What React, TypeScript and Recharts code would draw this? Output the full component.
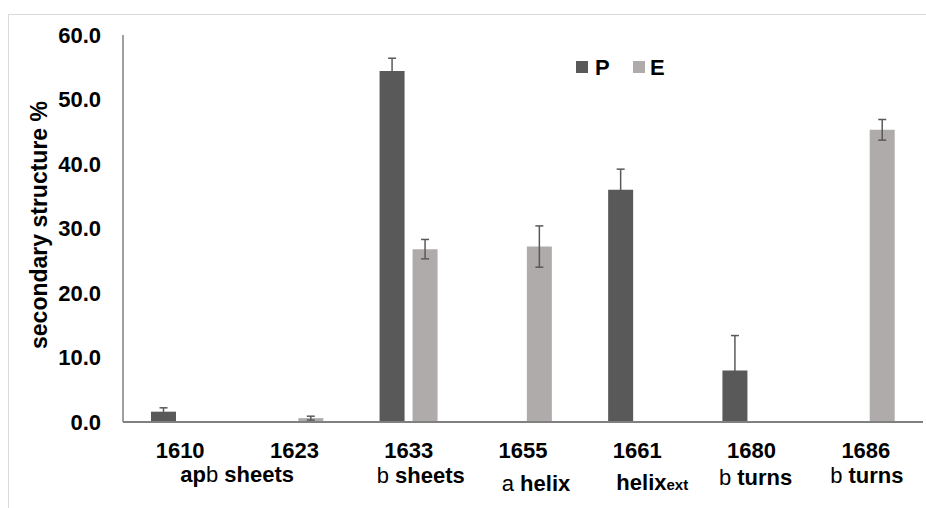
import React from 'react';
import { BarChart, Bar, XAxis, YAxis, ErrorBar } from 'recharts';

// ---- data ----
const categories = ['1610', '1623', '1633', '1655', '1661', '1680', '1686'];
const pValues = [1.6, null, 54.4, null, 36.0, 8.0, null];
const pErrors = [0.6, null, 2.0, null, 3.2, 5.4, null];
const eValues = [null, 0.6, 26.8, 27.2, null, null, 45.3];
const eErrors = [null, 0.3, 1.5, 3.2, null, null, 1.6];
const yTicks = [0, 10, 20, 30, 40, 50, 60];
// second-line labels: segments of [text, weight, subscript]
const structureLabels: Array<Array<[string, 'bold' | 'normal', boolean]>> = [
  [['ap', 'bold', false], ['b', 'normal', false], [' sheets', 'bold', false]],
  [],
  [['b', 'normal', false], [' sheets', 'bold', false]],
  [['a', 'normal', false], [' helix', 'bold', false]],
  [['helix', 'bold', false], ['ext', 'bold', true]],
  [['b', 'normal', false], [' turns', 'bold', false]],
  [['b', 'normal', false], [' turns', 'bold', false]],
];
const seriesNames = ['P', 'E'];

// ---- layout / style ----
const COLOR_P = '#595959';
const COLOR_E = '#AFABAB';
const FONT = '"Liberation Sans", Arial, sans-serif';
const labelShiftX = [57, 0, 12, 13, 15, 4, 1];
const labelBaseline = [60, 0, 61, 69, 68, 63, 61];

const data = categories.map((c, i) => ({
  cat: c,
  P: pValues[i],
  Perr: pErrors[i],
  E: eValues[i],
  Eerr: eErrors[i],
}));

const XTick = (props: any) => {
  const { x, y, payload, index } = props;
  const idx = typeof index === 'number' ? index : categories.indexOf(payload.value);
  const segs = structureLabels[idx] || [];
  return (
    <g>
      <text x={x} y={y + 36} textAnchor="middle" fontFamily={FONT} fontSize={22} fontWeight="bold" fill="#000">
        {payload.value}
      </text>
      {segs.length > 0 && (
        <text x={x + labelShiftX[idx]} y={y + labelBaseline[idx]} textAnchor="middle" fontFamily={FONT} fontSize={22} fill="#000">
          {segs.map((s, k) => (
            <tspan key={k} fontWeight={s[1]} fontSize={s[2] ? 15 : 22}>
              {s[0]}
            </tspan>
          ))}
        </text>
      )}
    </g>
  );
};

const YTick = (props: any) => {
  const { x, y, payload } = props;
  return (
    <text x={x} y={y} dy="0.36em" textAnchor="end" fontFamily={FONT} fontSize={22} fontWeight="bold" fill="#000">
      {Number(payload.value).toFixed(1)}
    </text>
  );
};

const YTitle = (props: any) => {
  return (
    <text
      x={47}
      y={225}
      transform="rotate(-90, 47, 225)"
      textAnchor="middle"
      fontFamily={FONT}
      fontSize={23}
      fontWeight="bold"
      fill="#000"
    >
      secondary structure %
    </text>
  );
};

export default function App() {
  return (
    <div style={{ position: 'absolute', left: 0, top: 0, width: 926, height: 508, background: '#fff', overflow: 'hidden' }}>
      <div
        style={{
          position: 'absolute',
          left: 8,
          top: 14,
          width: 940,
          height: 520,
          borderLeft: '1px solid #d9d9d9',
          borderTop: '1px solid #d9d9d9',
        }}
      />
      <BarChart
        width={926}
        height={508}
        data={data}
        margin={{ top: 35, right: 3, bottom: 0, left: 0 }}
        barSize={25}
        barGap={8}
        style={{ position: 'absolute', left: 0, top: 0 }}
      >
        <XAxis
          dataKey="cat"
          height={86}
          tickSize={0}
          tickMargin={0}
          tick={<XTick />}
          interval={0}
          axisLine={{ stroke: '#808080', strokeWidth: 2 }}
          tickLine={false}
        />
        <YAxis
          width={123}
          domain={[0, 60]}
          ticks={yTicks}
          tickSize={0}
          tickMargin={22}
          tick={<YTick />}
          axisLine={{ stroke: '#808080', strokeWidth: 1.5 }}
          tickLine={false}
          label={<YTitle />}
        />
        <Bar dataKey="P" name={seriesNames[0]} fill={COLOR_P} isAnimationActive={false}>
          <ErrorBar dataKey="Perr" width={4} stroke="#595959" strokeWidth={1.5} direction="y" />
        </Bar>
        <Bar dataKey="E" name={seriesNames[1]} fill={COLOR_E} isAnimationActive={false}>
          <ErrorBar dataKey="Eerr" width={4} stroke="#595959" strokeWidth={1.5} direction="y" />
        </Bar>
      </BarChart>
      <svg width={926} height={508} style={{ position: 'absolute', left: 0, top: 0, pointerEvents: 'none' }}>
        <rect x={576} y={61} width={12} height={12} fill={COLOR_P} />
        <text x={595} y={75} fontFamily={FONT} fontSize={22} fontWeight="bold" fill="#000">{seriesNames[0]}</text>
        <rect x={633} y={61} width={12} height={12} fill={COLOR_E} />
        <text x={650} y={75} fontFamily={FONT} fontSize={22} fontWeight="bold" fill="#000">{seriesNames[1]}</text>
      </svg>
    </div>
  );
}
